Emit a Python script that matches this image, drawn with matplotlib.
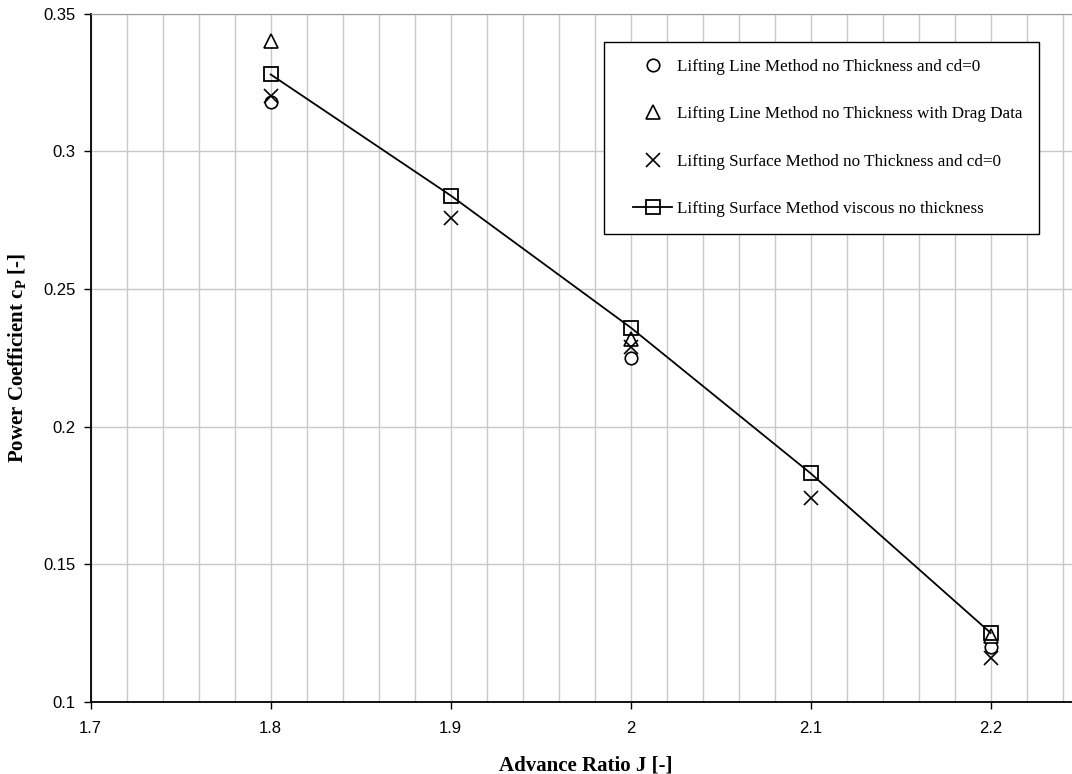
import matplotlib.pyplot as plt
from matplotlib.ticker import MultipleLocator
from matplotlib.legend_handler import HandlerLine2D

plt.rcParams['mathtext.fontset'] = 'custom'
plt.rcParams['mathtext.bf'] = 'Liberation Serif:bold'

# data
J = [1.8, 1.9, 2.0, 2.1, 2.2]
ll_nothick_cd0 = [0.318, None, 0.225, None, 0.120]
ll_nothick_drag = [0.340, None, 0.232, None, 0.124]
ls_nothick_cd0 = [0.320, 0.276, 0.229, 0.174, 0.116]
ls_viscous = [0.328, 0.284, 0.236, 0.183, 0.125]


def pts(xs, ys):
    xy = [(x, y) for x, y in zip(xs, ys) if y is not None]
    return [p[0] for p in xy], [p[1] for p in xy]


fig = plt.figure(figsize=(10.72, 7.74), dpi=100)
ax = fig.add_axes([0.0846, 0.0934, 0.9235, 0.8886])

serif = 'Liberation Serif'

x, y = pts(J, ll_nothick_cd0)
ax.plot(x, y, ls='none', marker='o', ms=9, mfc='white', mec='black', mew=1.2,
        label='Lifting Line Method no Thickness and cd=0', zorder=3)
x, y = pts(J, ll_nothick_drag)
ax.plot(x, y, ls='none', marker='^', ms=9.5, mfc='white', mec='black', mew=1.2,
        label='Lifting Line Method no Thickness with Drag Data', zorder=3)
x, y = pts(J, ls_nothick_cd0)
ax.plot(x, y, ls='none', marker='x', ms=10, mec='black', mew=1.2,
        label='Lifting Surface Method no Thickness and cd=0', zorder=3)
ax.plot(J, ls_viscous, color='black', lw=1.3, marker='s', ms=10.5, mfc='none',
        mec='black', mew=1.3, label='Lifting Surface Method viscous no thickness',
        zorder=4)

ax.set_xlim(1.7, 2.25)
ax.set_ylim(0.1, 0.35)
ax.xaxis.set_minor_locator(MultipleLocator(0.02))
ax.grid(True, which='both', axis='x', color='#c8c8c8', lw=1)
ax.grid(True, which='major', axis='y', color='#c8c8c8', lw=1)
ax.set_axisbelow(True)

ax.set_xticks([1.7, 1.8, 1.9, 2.0, 2.1, 2.2])
ax.set_xticklabels(['1.7', '1.8', '1.9', '2', '2.1', '2.2'])
ax.set_yticks([0.1, 0.15, 0.2, 0.25, 0.3, 0.35])
ax.set_yticklabels(['0.1', '0.15', '0.2', '0.25', '0.3', '0.35'])
ax.tick_params(axis='both', which='major', direction='out', length=5, width=1,
               labelsize=12)
ax.tick_params(axis='x', which='major', pad=9)
ax.tick_params(axis='y', which='major', pad=6)
ax.tick_params(axis='x', which='minor', length=0)
for lab in ax.get_xticklabels() + ax.get_yticklabels():
    lab.set_fontfamily('Liberation Sans')

ax.spines['left'].set_linewidth(1.3)
ax.spines['bottom'].set_linewidth(1.3)
ax.spines['top'].set_color('#999999')
ax.spines['right'].set_visible(False)

ax.set_xlabel('Advance Ratio J [-]', fontfamily=serif, fontweight='bold',
              fontsize=15, labelpad=14)
ax.set_ylabel(r'Power Coefficient c$_\mathbf{P}$ [-]', fontfamily=serif,
              fontweight='bold', fontsize=15, labelpad=10)

# legend: handle shifted right a little like the original
hl = HandlerLine2D(xpad=0.7)
leg = ax.legend(loc='upper left', bbox_to_anchor=(604 / 1072, 1 - 42 / 774),
                bbox_transform=fig.transFigure, prop={'family': serif, 'size': 12.3},
                frameon=True, fancybox=False, edgecolor='black', framealpha=1,
                labelspacing=1.83, handlelength=3.0, handletextpad=0.25,
                borderpad=1.0, borderaxespad=0,
                handler_map={l: hl for l in ax.get_lines()})
leg.get_frame().set_linewidth(1.0)

fig.savefig('out.png', dpi=100)
